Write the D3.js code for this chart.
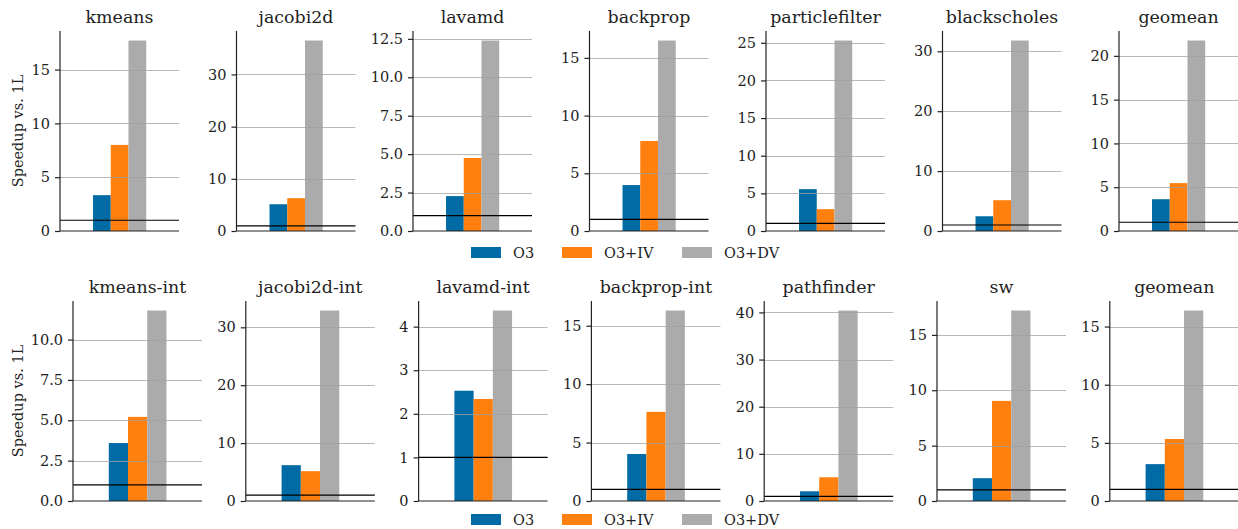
<!DOCTYPE html>
<html>
<head>
<meta charset="utf-8">
<script src="https://d3js.org/d3.v7.min.js"></script>
<style>
  body { margin: 0; background: #fff; }
  svg { font-family: "DejaVu Serif", serif; }
</style>
</head>
<body>
<div id="chart"></div>
<script>
const series = ["O3", "O3+IV", "O3+DV"];
const colors = ["#006BA4", "#FF800E", "#ABABAB"];

const topNames = ["kmeans", "jacobi2d", "lavamd", "backprop", "particlefilter", "blackscholes", "geomean"];
const topO3 = [3.33, 5.13, 2.27, 3.98, 5.56, 2.46, 3.63];
const topIV = [8.0, 6.29, 4.75, 7.8, 2.9, 5.14, 5.47];
const topDV = [17.7, 36.5, 12.39, 16.5, 25.3, 31.8, 21.75];
const topTicks = [
  [0, 5, 10, 15],
  [0, 10, 20, 30],
  [0, 2.5, 5, 7.5, 10, 12.5],
  [0, 5, 10, 15],
  [0, 5, 10, 15, 20, 25],
  [0, 10, 20, 30],
  [0, 5, 10, 15, 20]
];

const botNames = ["kmeans-int", "jacobi2d-int", "lavamd-int", "backprop-int", "pathfinder", "sw", "geomean"];
const botO3 = [3.59, 6.19, 2.53, 4.02, 2.06, 2.06, 3.17];
const botIV = [5.21, 5.15, 2.34, 7.63, 5.04, 9.04, 5.33];
const botDV = [11.8, 32.9, 4.37, 16.3, 40.4, 17.2, 16.38];
const botTicks = [
  [0, 2.5, 5, 7.5, 10],
  [0, 10, 20, 30],
  [0, 1, 2, 3, 4],
  [0, 5, 10, 15],
  [0, 10, 20, 30, 40],
  [0, 5, 10, 15],
  [0, 5, 10, 15]
];

const W = 1238, H = 529;
const svg = d3.select("#chart").append("svg")
  .attr("width", W).attr("height", H);

const rows = [
  { names: topNames, vals: [topO3, topIV, topDV], ticks: topTicks, left: 60, step: 176.5, w: 119, top: 31, h: 200, legendGap: 16 },
  { names: botNames, vals: [botO3, botIV, botDV], ticks: botTicks, left: 73, step: 172.8, w: 129, top: 301, h: 200, legendGap: 13 }
];

rows.forEach(row => {
  row.names.forEach((name, i) => {
    const x0 = row.left + i * row.step;
    const g = svg.append("g").attr("transform", `translate(${x0},${row.top})`);
    const values = row.vals.map(v => v[i]);
    const ticks = row.ticks[i];

    const y = d3.scaleLinear()
      .domain([0, d3.max(values) * 1.05])
      .range([row.h, 0]);
    const x = d3.scaleBand()
      .domain(series)
      .range([row.w * 0.2775, row.w * 0.7245])
      .padding(0);

    // bars
    g.selectAll("rect.bar")
      .data(values)
      .enter()
      .append("rect")
      .attr("class", "bar")
      .attr("x", (d, j) => x(series[j]))
      .attr("width", x.bandwidth())
      .attr("y", d => y(d))
      .attr("height", d => row.h - y(d))
      .style("fill", (d, j) => colors[j]);

    // grid
    g.selectAll("line.grid")
      .data(ticks.filter(t => t > 0))
      .enter()
      .append("line")
      .attr("class", "grid")
      .attr("x1", 0).attr("x2", row.w)
      .attr("y1", d => Math.round(y(d)) + 0.5)
      .attr("y2", d => Math.round(y(d)) + 0.5)
      .style("stroke", "#a0a0a0")
      .style("stroke-opacity", 0.75)
      .style("stroke-width", 1);

    // 1x reference line
    g.append("line")
      .attr("x1", 0).attr("x2", row.w)
      .attr("y1", y(1)).attr("y2", y(1))
      .style("stroke", "#000")
      .style("stroke-width", 1.2);

    // y axis
    const step = ticks[1] - ticks[0];
    const fmt = Number.isInteger(step) ? d3.format("d") : d3.format(".1f");
    const yAxis = d3.axisLeft(y).tickValues(ticks).tickFormat(fmt)
      .tickSize(5).tickPadding(5).tickSizeOuter(0);
    const ya = g.append("g").call(yAxis);
    ya.select(".domain").remove();
    ya.selectAll("line").style("stroke", "#222").style("stroke-width", 1.2);
    ya.selectAll("text").style("font-family", "DejaVu Serif").style("font-size", "14.5px").style("fill", "#222");

    // spines
    g.append("line")
      .attr("x1", 0).attr("x2", 0).attr("y1", 0).attr("y2", row.h)
      .style("stroke", "#222").style("stroke-width", 1.2);
    g.append("line")
      .attr("x1", 0).attr("x2", row.w).attr("y1", row.h).attr("y2", row.h)
      .style("stroke", "#222").style("stroke-width", 1.2);

    // title
    g.append("text")
      .attr("x", row.w / 2)
      .attr("y", -8)
      .attr("text-anchor", "middle")
      .style("font-size", "17.4px")
      .style("fill", "#222")
      .text(name);

    if (i === 0) {
      svg.append("text")
        .attr("transform", `translate(23,${row.top + row.h / 2}) rotate(-90)`)
        .attr("text-anchor", "middle")
        .style("font-size", "14.5px")
        .style("fill", "#222")
        .text("Speedup vs. 1L");
    }
  });

  // legend under each row
  const legendX = [471, 562, 682];
  const ly = row.top + row.h + row.legendGap;
  const lg = svg.append("g");
  series.forEach((s, j) => {
    lg.append("rect")
      .attr("x", legendX[j]).attr("y", ly)
      .attr("width", 30).attr("height", 11)
      .style("fill", colors[j]);
    lg.append("text")
      .attr("x", legendX[j] + 42).attr("y", ly + 11)
      .style("font-size", "14.5px")
      .style("fill", "#222")
      .text(s);
  });
});
</script>
</body>
</html>
